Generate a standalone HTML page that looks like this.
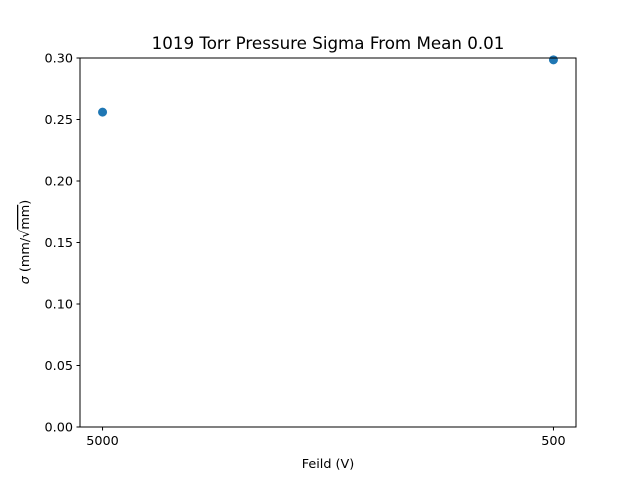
<!DOCTYPE html>
<html><head><meta charset="utf-8"><style>
body{margin:0;background:#fff;}
svg{font-family:"DejaVu Sans","Liberation Sans",sans-serif;}
</style></head><body>
<svg width="640" height="480" viewBox="0 0 640 480">
<rect width="640" height="480" fill="#fff"/>
<text x="328" y="49" font-size="16.7" text-anchor="middle">1019 Torr Pressure Sigma From Mean 0.01</text>
<g id="axes"></g>
<rect x="80" y="58" width="496" height="369" fill="none" stroke="#000" stroke-width="1"/>
<text x="328" y="468" font-size="12.8" text-anchor="middle">Feild (V)</text>
<text transform="translate(29,242) rotate(-90)" font-size="12.8" text-anchor="middle"><tspan font-style="italic">σ</tspan> (mm/√<tspan text-decoration="overline">mm</tspan>)</text>
</svg>
<script>
const categories=["5000","500"];
const sigmaValues=[0.256,0.2985];
const yTicks=[0,0.05,0.10,0.15,0.20,0.25,0.30];
const yTickLabels=["0.00","0.05","0.10","0.15","0.20","0.25","0.30"];
const NS="http://www.w3.org/2000/svg";
const g=document.getElementById('axes');
const L=80,R=576,T=58,B=427;
function xScale(i){const lo=-0.05,hi=(categories.length-1)+0.05;return L+(i-lo)/(hi-lo)*(R-L);}
function yScale(v){return B-(v-0)/(0.30-0)*(B-T);}
function mk(t,a){const e=document.createElementNS(NS,t);for(const k in a)e.setAttribute(k,a[k]);g.appendChild(e);return e;}
yTicks.forEach((v,i)=>{
 const y=yScale(v);
 const l=mk('line',{x1:L-3.5,x2:L,y1:y,y2:y,stroke:'#000'});
 
 
 const t=mk('text',{x:L-7,y:y+4.5,'font-size':12.8,'text-anchor':'end'});
 t.textContent=yTickLabels[i];
 
 
});
categories.forEach((c,i)=>{
 const x=xScale(i);
 const l=mk('line',{x1:x,x2:x,y1:B,y2:B+3.5,stroke:'#000'});
 
 
 const t=mk('text',{x:x,y:B+18,'font-size':12.8,'text-anchor':'middle'});
 t.textContent=c;
 
 
 const p=mk('circle',{cx:x,cy:yScale(sigmaValues[i]),r:4.5,fill:'#1f77b4'});
 
 
});
</script>
</body></html>
